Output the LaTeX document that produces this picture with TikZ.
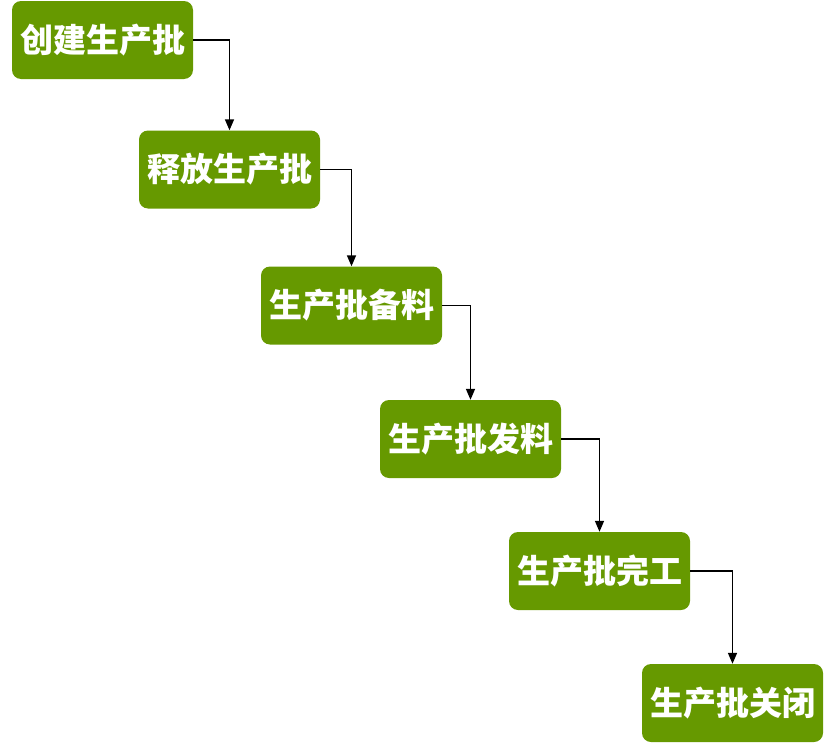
\documentclass[tikz,border=0pt]{standalone}
\usepackage{fontspec}
\newfontfamily\cjk{Noto Sans CJK SC}
\usetikzlibrary{arrows.meta}
\definecolor{boxgreen}{HTML}{669900}
\tikzset{
  stepbox/.style={draw=none, fill=boxgreen, rounded corners=9pt, minimum width=181pt, minimum height=78pt, inner sep=0pt, text=white, font=\cjk\bfseries\fontsize{33}{36}\selectfont},
  conn/.style={draw=black, line width=1.6pt, -{Triangle[width=9pt,length=11pt]}}
}
\begin{document}
\begin{tikzpicture}[x=1pt,y=-1pt]
\useasboundingbox (0,0) rectangle (836,744);
\node[stepbox] (a) at (102.5,40) {创建生产批};
\node[stepbox] (b) at (229.5,169.5) {释放生产批};
\node[stepbox] (c) at (351.5,305.5) {生产批备料};
\node[stepbox] (d) at (470.5,439) {生产批发料};
\node[stepbox] (e) at (599.5,571) {生产批完工};
\node[stepbox] (f) at (732.5,703) {生产批关闭};
\draw[conn] (a.east) -| (b.north);
\draw[conn] (b.east) -| (c.north);
\draw[conn] (c.east) -| (d.north);
\draw[conn] (d.east) -| (e.north);
\draw[conn] (e.east) -| (f.north);
\end{tikzpicture}
\end{document}
